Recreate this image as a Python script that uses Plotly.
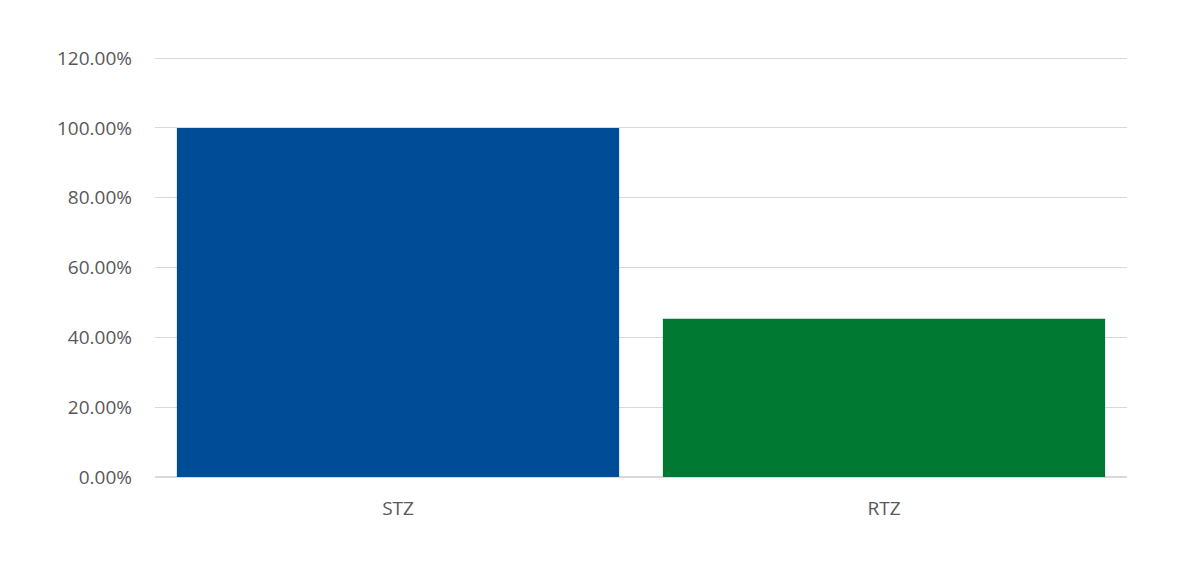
import plotly.graph_objects as go

categories = ["STZ", "RTZ"]
values = [1.0, 0.453]
colors = ["#004C97", "#007A33"]

fig = go.Figure(go.Bar(x=categories, y=values, marker=dict(color=colors, line=dict(width=0)),
                       width=0.91, hoverinfo="skip"))

fig.update_layout(
    width=1200, height=563,
    margin=dict(l=147, r=81, t=48, b=94),
    paper_bgcolor="white", plot_bgcolor="white",
    font=dict(family="Open Sans", size=19, color="#595959"),
    showlegend=False,
)
fig.update_yaxes(range=[0, 1.206], tickvals=[0, 0.2, 0.4, 0.6, 0.8, 1.0, 1.2],
                 tickformat=".2%", gridcolor="#d9d9d9",
                 gridwidth=1, zeroline=True, zerolinecolor="#d9d9d9", showline=False,
                 ticklabelstandoff=22)
fig.update_xaxes(showline=False, ticklabelstandoff=18, showgrid=False)

fig.write_html("out.html")
